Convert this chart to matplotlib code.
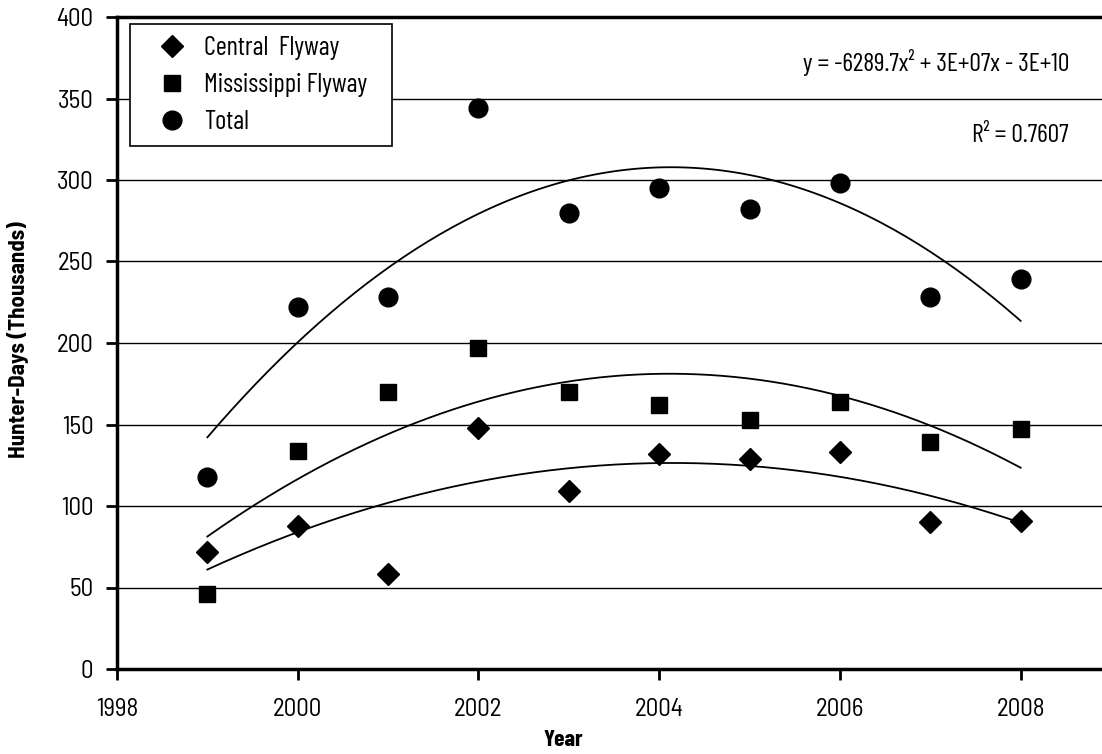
import numpy as np
import matplotlib
matplotlib.use("Agg")
import matplotlib.pyplot as plt

# data (thousands of hunter-days)
years = [1999, 2000, 2001, 2002, 2003, 2004, 2005, 2006, 2007, 2008]
central = [72, 88, 58, 148, 109, 132, 129, 133, 90, 91]
mississippi = [46, 134, 170, 197, 170, 162, 153, 164, 139, 147]
total = [118, 222, 228, 344, 280, 295, 282, 298, 228, 239]

x_ticks = [1998, 2000, 2002, 2004, 2006, 2008]
y_ticks = [0, 50, 100, 150, 200, 250, 300, 350, 400]

# condensed face like the original
plt.rcParams['font.family'] = ['Barlow Condensed', 'DejaVu Sans']
semi = ['Barlow Semi Condensed', 'Barlow Condensed', 'DejaVu Sans']

fig = plt.figure(figsize=(11.02, 7.54), dpi=100)
ax = fig.add_axes([117 / 1102, 1 - 669 / 754, (1111 - 117) / 1102, (669 - 17) / 754])

# points
ax.plot(years, central, linestyle='none', marker='D', ms=11.5, color='black', label='Central  Flyway')
ax.plot(years, mississippi, linestyle='none', marker='s', ms=11.5, color='black', label='Mississippi Flyway')
ax.plot(years, total, linestyle='none', marker='o', ms=13.5, color='black', label='Total')

# 2nd order polynomial trendlines
xs = np.linspace(years[0], years[-1], 200)
for series in (central, mississippi, total):
    coef = np.polyfit(np.array(years) - 2000, series, 2)
    ax.plot(xs, np.polyval(coef, xs - 2000), color='black', lw=1.3)

ax.set_xlim(1998, 2009)
ax.set_ylim(0, 400)
ax.set_xticks(x_ticks)
ax.set_yticks(y_ticks)
ax.tick_params(axis='both', direction='out', length=8, width=2, color='black')
ax.tick_params(axis='x', pad=13)
ax.tick_params(axis='y', pad=9)
for lab in ax.get_xticklabels() + ax.get_yticklabels():
    lab.set_fontfamily(semi)
    lab.set_fontsize(18)
ax.grid(axis='y', color='black', lw=1)
ax.set_axisbelow(True)

for s in ('left', 'bottom', 'top'):
    ax.spines[s].set_linewidth(2.5)
ax.spines['right'].set_visible(False)

fig.text(18 / 1102, 1 - 340 / 754, 'Hunter-Days (Thousands)', fontsize=16.5, fontweight='bold',
         family=semi, rotation=90, ha='center', va='center')
fig.text(563 / 1102, 1 - 740 / 754, 'Year', fontsize=17, fontweight='bold', ha='center', va='center')

leg = ax.legend(loc='upper left', bbox_to_anchor=(0.013, 0.5, 0.2636, 0.489), mode='expand',
                borderaxespad=0, fontsize=19, frameon=True, fancybox=False, edgecolor='black',
                framealpha=1, handletextpad=0.05, borderpad=0.45, labelspacing=0.5, handlelength=2.3)
leg.get_frame().set_linewidth(1.2)

fig.text(1069 / 1102, 1 - 62 / 754, 'y = -6289.7x² + 3E+07x - 3E+10', fontsize=18.5, ha='right', va='center')
fig.text(1069 / 1102, 1 - 135 / 754, 'R² = 0.7607', fontsize=18.5, ha='right', va='center')

fig.savefig('out.png', dpi=100)
